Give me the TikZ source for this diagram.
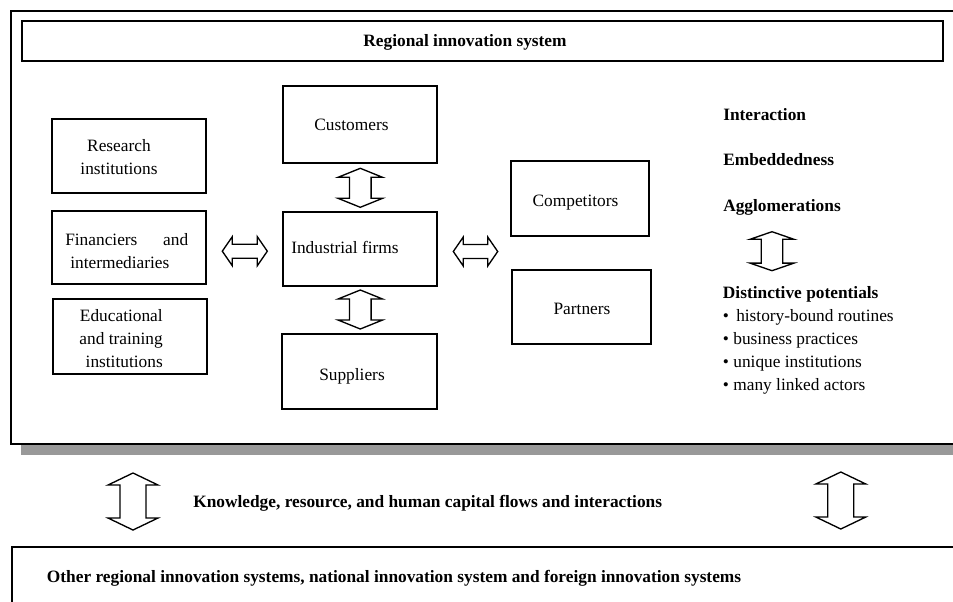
\documentclass[tikz,border=0pt]{standalone}
\usepackage{fontspec}
\setmainfont{Liberation Serif}
\usetikzlibrary{calc}
\definecolor{shadowgray}{HTML}{999999}
% vertical double block arrow: top coord, bottom coord, shaft half width, head half width, head length
\newcommand{\VDArrow}[5]{\draw[blockarrow] let \p1=(#1), \p2=(#2) in
  (\x1,\y1) -- (\x1+#4,\y1-#5) -- (\x1+#3,\y1-#5) -- (\x1+#3,\y2+#5) -- (\x1+#4,\y2+#5) --
  (\x1,\y2) -- (\x1-#4,\y2+#5) -- (\x1-#3,\y2+#5) -- (\x1-#3,\y1-#5) -- (\x1-#4,\y1-#5) -- cycle;}
% horizontal double block arrow: left coord, right coord, shaft half height, head half height, head length
\newcommand{\HDArrow}[5]{\draw[blockarrow] let \p1=(#1), \p2=(#2) in
  (\x1,\y1) -- (\x1+#5,\y1+#4) -- (\x1+#5,\y1+#3) -- (\x2-#5,\y1+#3) -- (\x2-#5,\y1+#4) --
  (\x2,\y1) -- (\x2-#5,\y1-#4) -- (\x2-#5,\y1-#3) -- (\x1+#5,\y1-#3) -- (\x1+#5,\y1-#4) -- cycle;}
\begin{document}
\begin{tikzpicture}[x=0.75pt,y=-0.75pt,
  box/.style={draw, rectangle, line width=1.1pt, inner sep=0pt},
  txt/.style={font=\fontsize{13}{17.25}\selectfont, inner sep=0pt},
  btxt/.style={font=\fontsize{13}{17.25}\selectfont\bfseries, inner sep=0pt},
  oneline/.style={yshift=-2.4pt},
  frame/.style={line width=1.5pt},
  blockarrow/.style={draw, line width=1pt, fill=white, line join=miter}]
\useasboundingbox (0,0) rectangle (953,601);
\clip (0,0) rectangle (953,601);

% outer frame of the regional innovation system with shadow
\fill[shadowgray] (21,445) rectangle (970,455);
\draw[frame] (970,11) -- (10.5,11) -- (10.5,444) -- (970,444);

% title
\node[box, line width=1.5pt, minimum width=690.75pt, minimum height=30pt] (title) at (482.5,41) {};
\node[btxt, oneline, anchor=mid] (titletext) at (465,40) {Regional innovation system};

% left column
\node[box, minimum width=115.5pt, minimum height=55.5pt] (research) at (129,156) {};
\node[txt, align=center] (researchtext) at (119,157.4) {Research\\institutions};
\node[box, minimum width=115.5pt, minimum height=54.75pt] (financiers) at (129,247.5) {};
\node[txt, align=left, anchor=west] (financierstext) at (65,250.9)
  {\makebox[92.25pt][s]{Financiers\hfill and}\\\hspace*{3.75pt}intermediaries};
\node[box, minimum width=115.5pt, minimum height=56.25pt] (educational) at (130,336.5) {};
\node[txt, align=right, anchor=east] (educationaltext) at (163,338.7)
  {Educational\\and training\\institutions};

% middle column
\node[box, minimum width=115.5pt, minimum height=57.75pt] (customers) at (360,124.5) {};
\node[txt, oneline, anchor=mid] (customerstext) at (351.5,124) {Customers};
\node[box, minimum width=115.5pt, minimum height=55.5pt] (industrial) at (360,249) {};
\node[txt, oneline, anchor=mid west] (industrialtext) at (291,247.7) {Industrial firms};
\node[box, minimum width=116.25pt, minimum height=56.25pt] (suppliers) at (359.5,371.5) {};
\node[txt, oneline, anchor=mid] (supplierstext) at (352,374) {Suppliers};

% right column
\node[box, minimum width=103.5pt, minimum height=56.25pt] (competitors) at (580,198.5) {};
\node[txt, oneline, anchor=mid] (competitorstext) at (575.5,200.7) {Competitors};
\node[box, minimum width=104.25pt, minimum height=55.5pt] (partners) at (581.5,307) {};
\node[txt, oneline, anchor=mid] (partnerstext) at (582,308) {Partners};

% right-hand texts
\node[btxt, oneline, anchor=mid west] (interaction) at (723,114.3) {Interaction};
\node[btxt, oneline, anchor=mid west] (embeddedness) at (723,159.3) {Embeddedness};
\node[btxt, oneline, anchor=mid west] (agglomerations) at (723,205.7) {Agglomerations};
\node[txt, align=left, anchor=west] (distinctive) at (722.7,340)
  {\textbf{Distinctive potentials}\\
   \textbullet\ \,history-bound routines\\
   \textbullet\ business practices\\
   \textbullet\ unique institutions\\
   \textbullet\ many linked actors};

% lower part
\node[btxt, oneline, anchor=mid west] (flows) at (193,501.7)
  {Knowledge, resource, and human capital flows and interactions};
\draw[frame] (11.5,620) -- (11.5,547) -- (970,547);
\node[btxt, oneline, anchor=mid west] (others) at (46.7,576.7)
  {Other regional innovation systems, national innovation system and foreign innovation systems};

% arrow end points
\coordinate (a1t) at (360.3,168.3); \coordinate (a1b) at (360.3,207.3);
\coordinate (a2t) at (360.3,290);   \coordinate (a2b) at (360.3,329);
\coordinate (a3l) at (222.3,251.2); \coordinate (a3r) at (267.3,251.2);
\coordinate (a4l) at (453.3,251.5); \coordinate (a4r) at (497.7,251.5);
\coordinate (a5t) at (772,231.7);   \coordinate (a5b) at (772,270.7);
\coordinate (a6t) at (133,473);     \coordinate (a6b) at (133,530);
\coordinate (a7t) at (840.8,472);   \coordinate (a7b) at (840.8,529);

\VDArrow{a1t}{a1b}{8.1pt}{16.7pt}{6.75pt}
\VDArrow{a2t}{a2b}{8.1pt}{16.7pt}{6.75pt}
\HDArrow{a3l}{a3r}{5.25pt}{10.9pt}{7.5pt}
\HDArrow{a4l}{a4r}{5.25pt}{10.9pt}{7.5pt}
\VDArrow{a5t}{a5b}{8.1pt}{16.5pt}{5.7pt}
\VDArrow{a6t}{a6b}{9.75pt}{18.75pt}{9pt}
\VDArrow{a7t}{a7b}{9.75pt}{18.75pt}{9pt}
\end{tikzpicture}
\end{document}
